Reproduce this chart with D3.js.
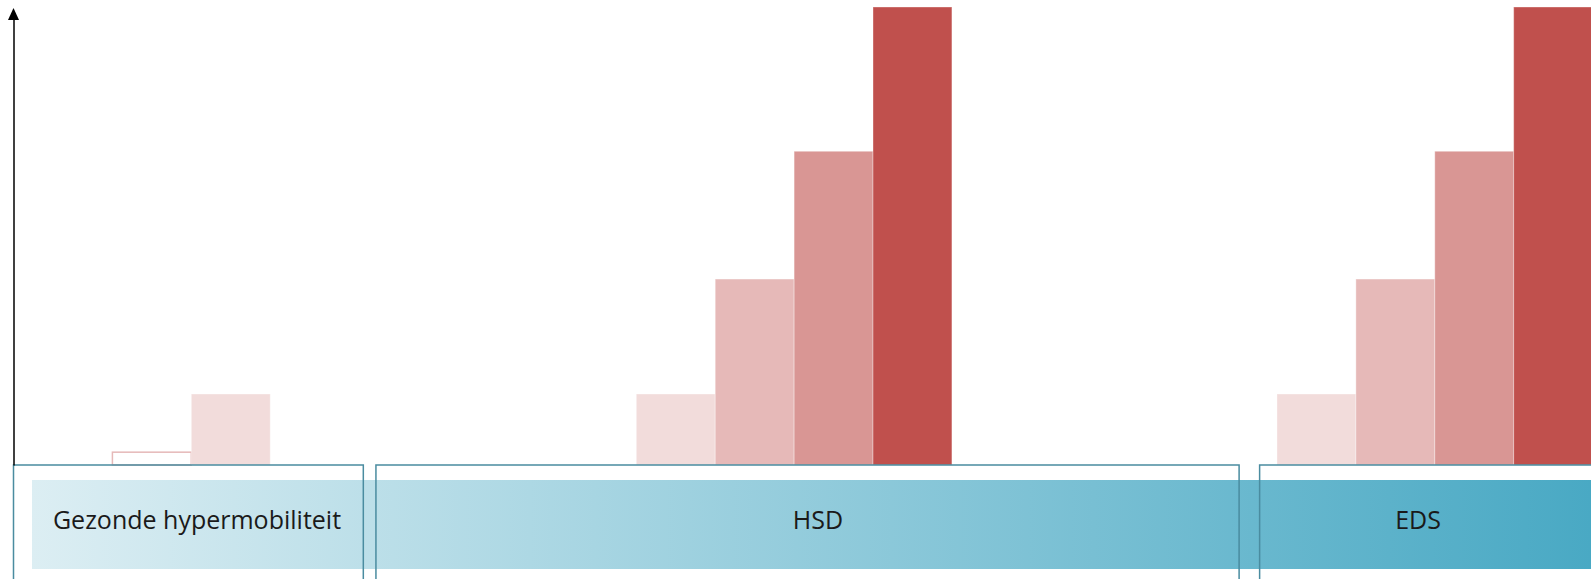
<!DOCTYPE html>
<html>
<head>
<meta charset="utf-8">
<script src="https://cdn.jsdelivr.net/npm/d3@7"></script>
<style>
  html, body { margin: 0; padding: 0; background: #ffffff; }
  svg { display: block; }
</style>
</head>
<body>
<svg id="chart" width="1591" height="579"></svg>
<script>
// ---- data ----
const categories = ["Gezonde hypermobiliteit", "HSD", "EDS"];
// extent of each category along the hypermobility spectrum (0-100)
const categoryStart = [0, 23, 79];
const categoryEnd = [22.2, 77.7, 102];
// bars: category, spectrum start, severity value, level (0 = outline only)
const barCategory = ["Gezonde hypermobiliteit", "Gezonde hypermobiliteit",
                     "HSD", "HSD", "HSD", "HSD",
                     "EDS", "EDS", "EDS", "EDS"];
const barStart = [6.3, 11.3, 39.5, 44.5, 49.5, 54.5, 80.1, 85.1, 90.1, 95.1];
const barValue = [2.8, 15.5, 15.5, 40.6, 68.5, 100, 15.5, 40.6, 68.5, 100];
const barLevel = [0, 1, 1, 2, 3, 4, 1, 2, 3, 4];
const barWidthUnits = 5;

// ---- layout ----
const W = 1591, H = 579;
const baseY = 465, topY = 7;
const svg = d3.select("#chart");

const x = d3.scaleLinear().domain([0, 100]).range([13, 1591]);
const y = d3.scaleLinear().domain([0, 100]).range([baseY, topY]);
const fillColor = d3.scaleOrdinal().domain([0, 1, 2, 3, 4])
  .range(["#ffffff", "#F2DCDB", "#E6B9B8", "#D99694", "#C0504D"]);

// gradient band
const defs = svg.append("defs");
const grad = defs.append("linearGradient").attr("id", "band")
  .attr("gradientUnits", "userSpaceOnUse")
  .attr("x1", 32).attr("x2", W).attr("y1", 0).attr("y2", 0);
grad.append("stop").attr("offset", "0%").attr("stop-color", "#DCEEF3");
grad.append("stop").attr("offset", "100%").attr("stop-color", "#49A9C4");

svg.append("rect")
  .attr("x", 32).attr("y", 480)
  .attr("width", W - 32).attr("height", 89)
  .attr("fill", "url(#band)");

// bars
const bars = barValue.map((v, i) => ({
  cat: barCategory[i], start: barStart[i], value: v, level: barLevel[i]
}));
svg.append("g").selectAll("rect").data(bars).join("rect")
  .attr("x", d => x(d.start))
  .attr("y", d => y(d.value))
  .attr("width", d => x(d.start + barWidthUnits) - x(d.start))
  .attr("height", d => baseY - y(d.value))
  .attr("fill", d => fillColor(d.level))
  .attr("stroke", d => d.level === 0 ? "#E6B9B8" : "rgba(255,255,255,0.35)")
  .attr("stroke-width", d => d.level === 0 ? 1.5 : 1);

// category boxes
const boxes = categories.map((c, i) => ({ cat: c, s: categoryStart[i], e: categoryEnd[i] }));
svg.append("g").selectAll("path").data(boxes).join("path")
  .attr("d", d => {
    const x0 = Math.max(x(d.s), 13.5), x1 = x(d.e);
    return `M${x0},${H + 5}V${baseY}H${x1}V${H + 5}`;
  })
  .attr("fill", "none")
  .attr("stroke", "#4A8CA0")
  .attr("stroke-width", 1.5);

// labels
const labelX = { "Gezonde hypermobiliteit": 197, "HSD": 818, "EDS": 1418 };
svg.append("g").selectAll("text").data(categories).join("text")
  .attr("x", d => labelX[d])
  .attr("y", 529)
  .attr("text-anchor", "middle")
  .attr("font-family", "'Open Sans', Lato, sans-serif")
  .attr("font-size", 25)
  .attr("fill", "#1a1a1a")
  .text(d => d);

// y axis with arrow
const axisScale = d3.scaleLinear().domain([0, 1]).range([baseY, 19]);
const yAxis = svg.append("g").attr("transform", "translate(13.5,0)")
  .call(d3.axisLeft(axisScale).tickValues([]).tickSizeOuter(0));
yAxis.select(".domain")
  .attr("stroke", "#000")
  .attr("stroke-width", 1.5);
const tipY = axisScale(1) - 11;
yAxis.append("path")
  .attr("d", `M0,${tipY} L5.5,${axisScale(1) + 1} L-5.5,${axisScale(1) + 1} Z`)
  .attr("fill", "#000");
</script>
</body>
</html>
